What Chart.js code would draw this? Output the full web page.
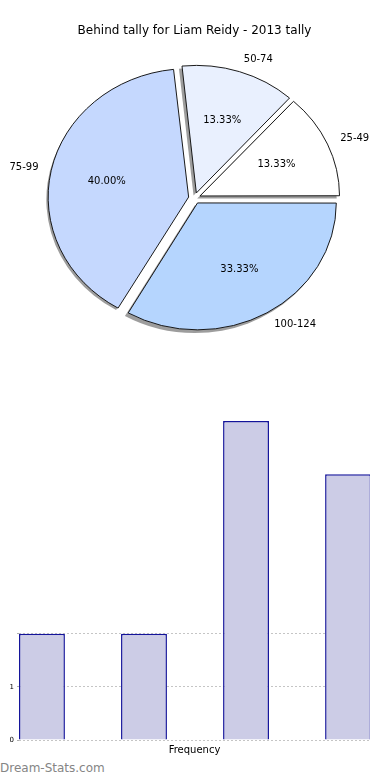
<!DOCTYPE html>
<html>
<head>
<meta charset="utf-8">
<script src="https://cdn.jsdelivr.net/npm/chart.js@4"></script>
<style>
  html, body { margin: 0; padding: 0; background: #fff; overflow: hidden; }
  body { width: 390px; height: 780px; position: relative; font-family: "DejaVu Sans", sans-serif; }
  #pie { position: absolute; left: 0; top: 0; }
  #bars { position: absolute; left: 0; top: 360px; }
  #mark { position: absolute; left: 0; top: 761px; font-size: 12px; color: #858585; }
</style>
</head>
<body>
<canvas id="pie" width="390" height="352"></canvas>
<canvas id="bars" width="390" height="400"></canvas>
<div id="mark">Dream-Stats.com</div>

<script>
const title = "Behind tally for Liam Reidy - 2013 tally";
const ranges = ["25-49", "50-74", "75-99", "100-124"];
const freq = [2, 2, 6, 5];
const sliceColors = ["#ffffff", "#e9f0fe", "#c5d8fe", "#b5d5fe"];
const yTickLabels = ["0", "1"];
const xTitle = "Frequency";

const squashY = 128 / 140;     // pie is drawn as an ellipse
const explode = 24;            // chart.js offset, drawn as offset/4 px

Chart.defaults.font.family = "DejaVu Sans";
Chart.defaults.color = "#000";

function squash(ctx, cy) {
  ctx.translate(0, cy);
  ctx.scale(1, squashY);
  ctx.translate(0, -cy);
}

function arcCenter(a) {
  let mid = (a.startAngle + a.endAngle) / 2;
  let d = a.options.offset / 4;
  return { mid: mid, x: a.x + Math.cos(mid) * d, y: a.y + Math.sin(mid) * d };
}

const piePlugin = {
  id: "piePlugin",
  beforeDatasetsDraw(chart) {
    let ctx = chart.ctx;
    let arcs = chart.getDatasetMeta(0).data;
    // shadow under every slice
    ctx.save();
    ctx.translate(-2.8, 2.6);
    squash(ctx, arcs[0].y);
    arcs.forEach(a => {
      let c = arcCenter(a);
      ctx.beginPath();
      ctx.moveTo(c.x, c.y);
      ctx.arc(c.x, c.y, a.outerRadius + 1.5, a.startAngle, a.endAngle);
      ctx.closePath();
      ctx.fillStyle = "rgba(60,60,60,0.5)";
      ctx.fill();
    });
    ctx.restore();
    ctx.save();
    squash(ctx, arcs[0].y);
  },
  afterDatasetsDraw(chart) {
    let ctx = chart.ctx;
    ctx.restore();
    let arcs = chart.getDatasetMeta(0).data;
    let values = chart.data.datasets[0].data;
    let names = chart.data.labels;
    let total = values.reduce((s, v) => s + v, 0);
    let cy = arcs[0].y;
    ctx.save();
    ctx.font = "10px 'DejaVu Sans'";
    ctx.fillStyle = "#000";
    ctx.textBaseline = "middle";
    arcs.forEach((a, i) => {
      let c = arcCenter(a);
      let r = a.outerRadius + 1.5;
      let cos = Math.cos(c.mid), sin = Math.sin(c.mid);
      // category label outside
      let lx = c.x + cos * r * 1.1;
      let ly = cy + (c.y + sin * r * 1.1 - cy) * squashY;
      ctx.textAlign = cos > 0 ? "left" : "right";
      ctx.fillText(names[i], lx, ly);
      // percentage inside
      let px = c.x + cos * r * 0.6;
      let py = cy + (c.y + sin * r * 0.6 - cy) * squashY;
      ctx.textAlign = "center";
      ctx.fillText((values[i] / total * 100).toFixed(2) + "%", px, py);
    });
    ctx.restore();
  }
};

// pie goes clockwise from 3 o'clock, so feed it in reverse
new Chart(qs("#pie"), {
  type: "pie",
  data: {
    labels: ranges.slice().reverse(),
    datasets: [{
      data: freq.slice().reverse(),
      backgroundColor: sliceColors.slice().reverse(),
      borderColor: "#111",
      borderWidth: 1,
      offset: explode
    }]
  },
  options: {
    responsive: false,
    animation: false,
    rotation: 90,
    radius: 138,
    layout: { padding: { left: 0, right: 1, top: 0, bottom: 1 } },
    plugins: {
      legend: { display: false },
      tooltip: { enabled: false },
      title: {
        display: true,
        text: title,
        font: { size: 12, weight: "normal" },
        color: "#000",
        padding: { top: 24, bottom: 7 }
      }
    }
  },
  plugins: [piePlugin]
});

new Chart(qs("#bars"), {
  type: "bar",
  data: {
    datasets: [{
      data: freq.map((v, i) => ({ x: i, y: v })),
      backgroundColor: "#ccccE6",
      borderColor: "#14149a",
      borderWidth: 1.5,
      categoryPercentage: 0.45,
      barPercentage: 1,
      clip: 0
    }]
  },
  options: {
    responsive: false,
    animation: false,
    layout: { padding: { left: 0, right: 20, top: 61, bottom: 0 } },
    plugins: { legend: { display: false }, tooltip: { enabled: false } },
    scales: {
      x: {
        type: "linear",
        offset: false,
        min: -0.225,
        max: 3.215,
        grid: { display: false, drawTicks: false, offset: false },
        border: { display: false },
        ticks: { display: false, stepSize: 1, includeBounds: false },
        title: { display: true, text: xTitle, font: { size: 10 }, color: "#000", padding: { top: 4, bottom: 4 } }
      },
      y: {
        min: 0,
        max: 6,
        z: 1,
        afterFit(s) { s.width = 19; },
        border: { display: false, dash: [2, 2] },
        grid: {
          color: c => (c.tick && c.tick.value <= 2) ? "rgba(140,140,140,0.5)" : "rgba(0,0,0,0)",
          tickColor: c => (c.tick && c.tick.value <= 2) ? "rgba(140,140,140,0.7)" : "rgba(0,0,0,0)",
          tickLength: 2
        },
        ticks: {
          stepSize: 1,
          padding: 3,
          font: { size: 7 },
          color: "#000",
          callback: v => yTickLabels[v] ?? ""
        }
      }
    }
  }
});

function qs(selector) {
  return document.querySelector(selector);
}
</script>
</body>
</html>
